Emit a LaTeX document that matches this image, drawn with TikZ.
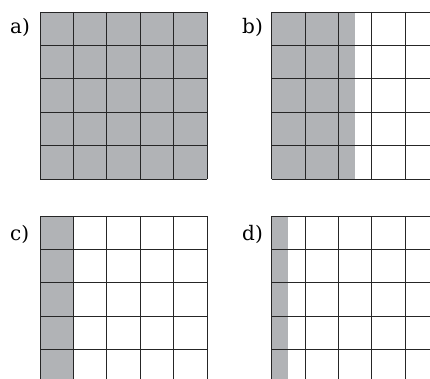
\documentclass[tikz,border=0pt]{standalone}
\usepackage{fontspec}
\setmainfont{DejaVu Serif}
\definecolor{cellgray}{HTML}{B1B3B6}
\begin{document}
\begin{tikzpicture}[x=1pt,y=-1pt,
  gridline/.style={line width=0.9pt,draw=black!85},
  lab/.style={anchor=base west,inner sep=0pt,font=\fontsize{20}{22}\selectfont}]
\useasboundingbox (0,0) rectangle (430,379);
\clip (0,0) rectangle (430,379);
\def\cs{33.4}
\newcommand{\mygrid}[3]{%
  \fill[cellgray] (#1,#2) rectangle ++(#3*\cs,5*\cs);
  \foreach \k in {0,...,5}{
    \draw[gridline] (#1+\k*\cs,#2) -- ++(0,5*\cs);
    \draw[gridline] (#1,#2+\k*\cs) -- ++(5*\cs,0);
  }}
\mygrid{40}{12}{5}
\mygrid{271.7}{12}{2.5}
\mygrid{40}{216}{1}
\mygrid{271.7}{216}{0.5}
% labels
\node[lab] (la) at (10,34) {a)};
\node[lab] (lb) at (242,34) {b)};
\node[lab] (lc) at (10,240) {c)};
\node[lab] (ld) at (242,240) {d)};
\end{tikzpicture}
\end{document}
